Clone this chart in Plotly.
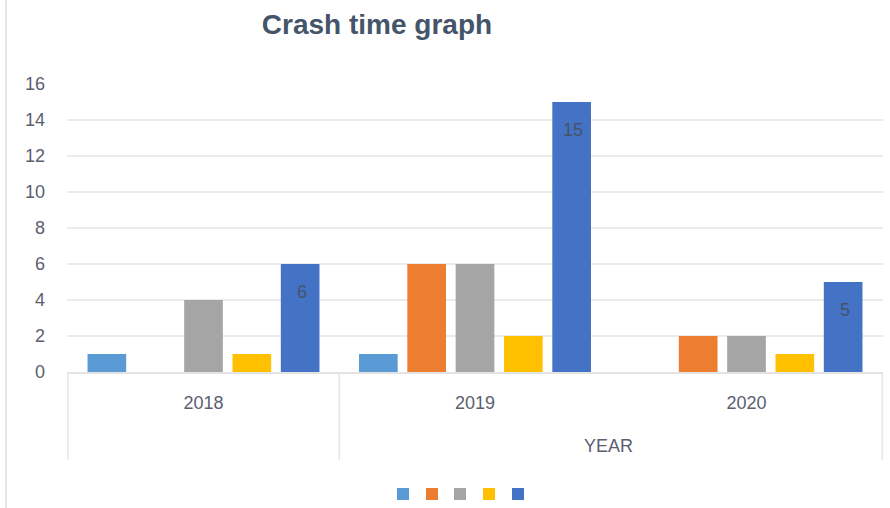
import plotly.graph_objects as go

years = ["2018", "2019", "2020"]
series_names = ["Series 1", "Series 2", "Series 3", "Series 4", "Series 5"]
s1 = [1, 1, 0]
s2 = [0, 6, 2]
s3 = [4, 6, 2]
s4 = [1, 2, 1]
s5 = [6, 15, 5]
series_values = [s1, s2, s3, s4, s5]
colors = ["#5B9BD5", "#ED7D31", "#A5A5A5", "#FFC000", "#4472C4"]
y_ticks = [0, 2, 4, 6, 8, 10, 12, 14, 16]
title_text = "Crash time graph"
outer_label = "YEAR"

W, H = 890, 508
ML, MR, MT, MB = 67, 7, 84, 136
PW = W - ML - MR
PH = H - MT - MB

legend_ids = ["legend", "legend2", "legend3", "legend4", "legend5"]
legend_centers_px = [403, 432, 460, 489, 518]

fig = go.Figure()
for name, vals, col, lg in zip(series_names, series_values, colors, legend_ids):
    fig.add_trace(go.Bar(x=years, y=vals, name=name, marker=dict(color=col, line=dict(width=0)),
                         showlegend=True, legend=lg))

# data labels for the last series
for i, v in enumerate(s5):
    fig.add_annotation(x=i, y=v, xref="x", yref="y", text=str(v), showarrow=False,
                       xshift=98, yshift=-28, font=dict(size=18, color="#47536a", family="Liberation Sans"))

# multi-level category table lines
for xb in [-0.5, 0.5, 2.5]:
    fig.add_shape(type="line", xref="x", yref="paper", x0=xb, x1=xb, y0=0, y1=-0.305,
                  line=dict(color="#e6e6ea", width=1.5))
# outer chart left border
fig.add_shape(type="line", xref="paper", yref="paper", x0=(6 - ML) / PW, x1=(6 - ML) / PW, y0=-0.5, y1=1.4,
              line=dict(color="#e6e6e6", width=2))

fig.add_annotation(x=1.49, y=-(446 - (H - MB)) / PH, xref="x", yref="paper", yanchor="middle",
                   text=outer_label, showarrow=False,
                   font=dict(size=18, color="#5a6070", family="Liberation Sans"))

legends = {}
for lg, cx in zip(legend_ids, legend_centers_px):
    legends[lg] = dict(orientation="h", x=(cx - 20 - ML) / PW, xanchor="left",
                       y=(H - MB - 494) / PH, yanchor="middle",
                       font=dict(size=1, color="white"), bgcolor="rgba(0,0,0,0)")

fig.update_layout(
    width=W, height=H,
    margin=dict(l=ML, r=MR, t=MT, b=MB, autoexpand=False),
    paper_bgcolor="white", plot_bgcolor="white",
    title=dict(text=title_text, x=377 / W, xanchor="center", y=1 - 14 / H, yanchor="top",
               font=dict(size=28, color="#44546A", family="Liberation Sans", weight="bold")),
    barmode="group", bargap=0.11, bargroupgap=0.2,
    showlegend=True,
    xaxis=dict(type="category", showgrid=False, showline=True, linecolor="#e3e3e3", linewidth=1.5,
               ticks="", tickfont=dict(size=18, color="#5a6070", family="Liberation Sans"),
               ticklabelstandoff=14, automargin=False),
    yaxis=dict(range=[0, 16], tickvals=y_ticks, showgrid=True, gridcolor="#ebebeb", gridwidth=1.5,
               zeroline=False, showline=False, ticks="",
               tickfont=dict(size=18, color="#5a6070", family="Liberation Sans"),
               ticklabelstandoff=21, automargin=False),
    **legends,
)

fig.write_html("out.html", post_script="document.body.style.margin='0';",
               config={"displayModeBar": False})
